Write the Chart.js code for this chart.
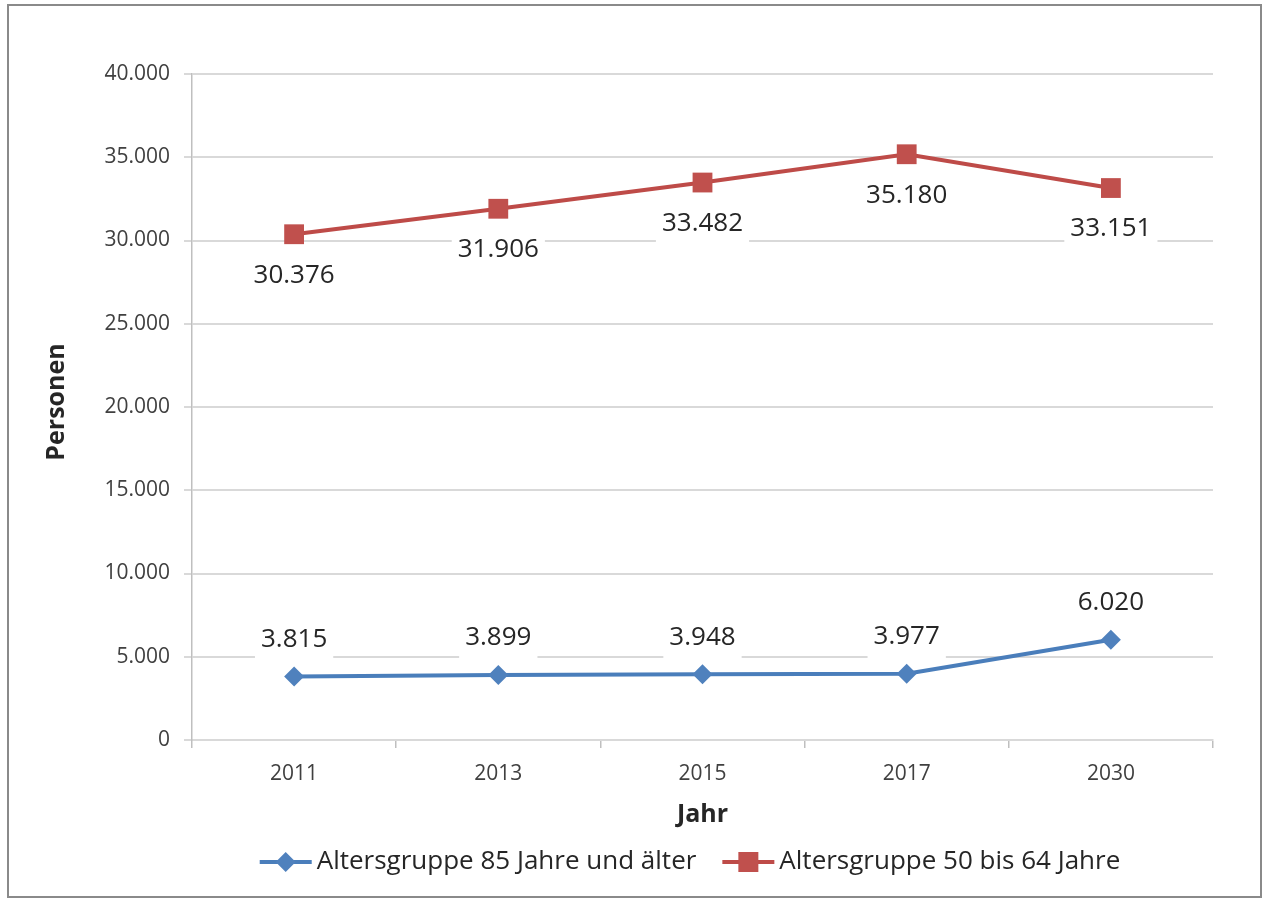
<!DOCTYPE html>
<html>
<head>
<meta charset="utf-8">
<script src="https://cdn.jsdelivr.net/npm/chart.js@4"></script>
<style>
  html, body { margin: 0; padding: 0; background: #ffffff; }
  #wrap { width: 1264px; height: 899px; position: relative; }
</style>
</head>
<body>
<div id="wrap"><canvas id="c" width="1264" height="899"></canvas></div>
<script>
// ---- data ----
const years = ['2011', '2013', '2015', '2017', '2030'];
const age85plus = [3815, 3899, 3948, 3977, 6020];
const age50to64 = [30376, 31906, 33482, 35180, 33151];
const seriesNames = ['Altersgruppe 85 Jahre und älter', 'Altersgruppe 50 bis 64 Jahre'];
const yMin = 0, yMax = 40000, yStep = 5000;
const xTitle = 'Jahr';
const yTitle = 'Personen';

const FONT = '"Open Sans", "Noto Sans", sans-serif';
const BLUE_LINE = '#4A7EBB', BLUE_FILL = '#4F81BD';
const RED_LINE = '#BE4B48', RED_FILL = '#C0504D';
const TEXT = '#262626';

function fmt(v) {
  return String(Math.round(v)).replace(/\B(?=(\d{3})+(?!\d))/g, '.');
}

const framePlugin = {
  id: 'frame',
  beforeDraw(chart) {
    const ctx = chart.ctx;
    ctx.save();
    ctx.fillStyle = '#ffffff';
    ctx.fillRect(0, 0, chart.width, chart.height);
    ctx.strokeStyle = '#8a8a8a';
    ctx.lineWidth = 2;
    ctx.strokeRect(8, 5, 1253, 892);
    ctx.restore();
  }
};

const labelPlugin = {
  id: 'dataLabels',
  afterDatasetsDraw(chart) {
    const ctx = chart.ctx;
    ctx.save();
    ctx.font = '26px ' + FONT;
    ctx.textAlign = 'center';
    ctx.textBaseline = 'middle';
    chart.data.datasets.forEach((ds, di) => {
      const meta = chart.getDatasetMeta(di);
      const off = di === 0 ? -37 : 41;
      meta.data.forEach((pt, i) => {
        const txt = fmt(ds.data[i]);
        const w = ctx.measureText(txt).width;
        const cx = pt.x, cy = pt.y + off;
        ctx.fillStyle = '#ffffff';
        ctx.fillRect(cx - w / 2 - 6, cy - 22, w + 12, 44);
        ctx.fillStyle = TEXT;
        ctx.fillText(txt, cx, cy);
      });
    });
    ctx.restore();
  }
};

const titlesLegendPlugin = {
  id: 'titlesLegend',
  afterDraw(chart) {
    const ctx = chart.ctx;
    const area = chart.chartArea;
    ctx.save();
    // axis titles
    ctx.fillStyle = TEXT;
    ctx.font = 'bold 25px ' + FONT;
    ctx.textAlign = 'center';
    ctx.textBaseline = 'middle';
    ctx.fillText(xTitle, (area.left + area.right) / 2, 815);
    ctx.save();
    ctx.translate(57, 402);
    ctx.rotate(-Math.PI / 2);
    ctx.fillText(yTitle, 0, 0);
    ctx.restore();

    // legend
    ctx.font = '26px ' + FONT;
    ctx.textAlign = 'left';
    const w1 = ctx.measureText(seriesNames[0]).width;
    const w2 = ctx.measureText(seriesNames[1]).width;
    const sym = 52, gapSym = 5, gapItem = 26;
    const total = sym + gapSym + w1 + gapItem + sym + gapSym + w2;
    let x = 690 - total / 2;
    const y = 862;
    const items = [
      { name: seriesNames[0], line: BLUE_LINE, fill: BLUE_FILL, shape: 'diamond', w: w1 },
      { name: seriesNames[1], line: RED_LINE, fill: RED_FILL, shape: 'square', w: w2 }
    ];
    items.forEach(it => {
      ctx.strokeStyle = it.line;
      ctx.lineWidth = 4;
      ctx.beginPath();
      ctx.moveTo(x, y);
      ctx.lineTo(x + sym, y);
      ctx.stroke();
      const mx = x + sym / 2;
      ctx.fillStyle = it.fill;
      ctx.beginPath();
      if (it.shape === 'diamond') {
        ctx.moveTo(mx, y - 10);
        ctx.lineTo(mx + 10, y);
        ctx.lineTo(mx, y + 10);
        ctx.lineTo(mx - 10, y);
        ctx.closePath();
      } else {
        ctx.rect(mx - 10, y - 10, 20, 20);
      }
      ctx.fill();
      ctx.fillStyle = TEXT;
      ctx.textBaseline = 'middle';
      ctx.fillText(it.name, x + sym + gapSym, y);
      x += sym + gapSym + it.w + gapItem;
    });
    ctx.restore();
  }
};

new Chart(document.getElementById('c'), {
  type: 'line',
  data: {
    labels: years,
    datasets: [
      {
        label: seriesNames[0],
        data: age85plus,
        borderColor: BLUE_LINE,
        backgroundColor: BLUE_FILL,
        borderWidth: 4,
        pointStyle: 'rectRot',
        pointRadius: 10,
        pointHoverRadius: 10,
        pointBorderWidth: 0,
        pointBackgroundColor: BLUE_FILL,
        tension: 0
      },
      {
        label: seriesNames[1],
        data: age50to64,
        borderColor: RED_LINE,
        backgroundColor: RED_FILL,
        borderWidth: 4,
        pointStyle: 'rect',
        pointRadius: 14,
        pointHoverRadius: 14,
        pointBorderWidth: 0,
        pointBackgroundColor: RED_FILL,
        tension: 0
      }
    ]
  },
  options: {
    responsive: false,
    animation: false,
    events: [],
    layout: { padding: { left: 0, top: 74, right: 51, bottom: 0 } },
    plugins: {
      legend: { display: false },
      tooltip: { enabled: false },
      title: { display: false }
    },
    scales: {
      x: {
        type: 'category',
        offset: true,
        afterFit(scale) { scale.height = 159; },
        grid: {
          drawOnChartArea: false,
          drawTicks: true,
          tickLength: 8,
          color: '#bfbfbf',
          lineWidth: 1.5,
          offset: true
        },
        border: { display: true, color: '#d9d9d9', width: 2 },
        ticks: {
          color: '#404040',
          font: { family: FONT, size: 21 },
          padding: 13,
          maxRotation: 0
        }
      },
      y: {
        min: yMin,
        max: yMax,
        afterFit(scale) { scale.width = 192; },
        grid: {
          color: '#d9d9d9',
          lineWidth: 2,
          drawTicks: true,
          tickLength: 8
        },
        border: { display: true, color: '#bfbfbf', width: 1.5 },
        ticks: {
          stepSize: yStep,
          color: '#404040',
          font: { family: FONT, size: 21 },
          padding: 14,
          callback: (v) => fmt(v)
        }
      }
    }
  },
  plugins: [framePlugin, labelPlugin, titlesLegendPlugin]
});
</script>
</body>
</html>
